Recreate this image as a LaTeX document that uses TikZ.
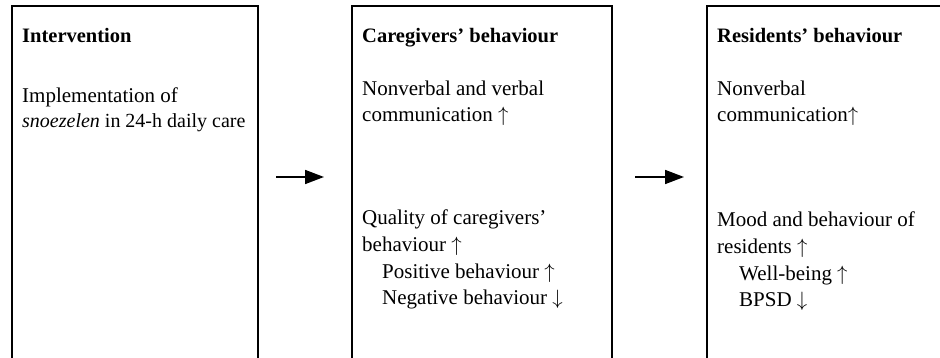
\documentclass[tikz,border=0pt]{standalone}
\usepackage{fontspec}
\setmainfont{Liberation Serif}
\usetikzlibrary{arrows.meta}

\newcommand{\up}{\ensuremath{\uparrow}}
\newcommand{\dn}{\ensuremath{\downarrow}}

\begin{document}
\begin{tikzpicture}[x=1pt,y=-1pt,
  panel/.style={draw=black,line width=2.2pt},
  txt/.style={anchor=base west,inner sep=0pt,font=\fontsize{21}{26}\selectfont},
  head/.style={anchor=base west,inner sep=0pt,font=\fontsize{20.5}{24}\selectfont\bfseries},
  flow/.style={line width=1.7pt,-{Triangle[length=19pt,width=14pt]}}
]
\useasboundingbox (0,0) rectangle (940,358);
\clip (0,0) rectangle (940,358);

% three panels, open towards the bottom of the page
\coordinate (p1tl) at (12,6);   \coordinate (p1br) at (258,380);
\coordinate (p2tl) at (352,6);  \coordinate (p2br) at (612,380);
\coordinate (p3tl) at (707,6);  \coordinate (p3br) at (980,380);
\draw[panel] (p1tl) rectangle (p1br);
\draw[panel] (p2tl) rectangle (p2br);
\draw[panel] (p3tl) rectangle (p3br);

% intervention panel
\node[head] (h1) at (22,43) {Intervention};
\node[txt] (i1) at (22,103) {Implementation of};
\node[txt,font=\fontsize{20}{26}\selectfont] (i2) at (22,128) {\textit{snoezelen} in 24-h daily care};

% caregivers panel
\node[head] (h2) at (362,43) {Caregivers’ behaviour};
\node[txt] (c1) at (362,96) {Nonverbal and verbal};
\node[txt] (c2) at (362,122) {communication \up};
\node[txt] (c3) at (362,225) {Quality of caregivers’};
\node[txt] (c4) at (362,252) {behaviour \up};
\node[txt] (c5) at (382,279) {Positive behaviour \up};
\node[txt] (c6) at (382,305) {Negative behaviour \dn};

% residents panel
\node[head] (h3) at (717,43) {Residents’ behaviour};
\node[txt] (r1) at (717,96) {Nonverbal};
\node[txt] (r2) at (717,122) {communication\up};
\node[txt] (r3) at (717,227) {Mood and behaviour of};
\node[txt] (r4) at (717,254) {residents \up};
\node[txt] (r5) at (739,280) {Well-being \up};
\node[txt] (r6) at (739,306) {BPSD \dn};

% arrows between the panels
\coordinate (a1s) at (276,177); \coordinate (a1e) at (324,177);
\coordinate (a2s) at (635,177); \coordinate (a2e) at (684,177);
\draw[flow] (a1s) -- (a1e);
\draw[flow] (a2s) -- (a2e);
\end{tikzpicture}
\end{document}
